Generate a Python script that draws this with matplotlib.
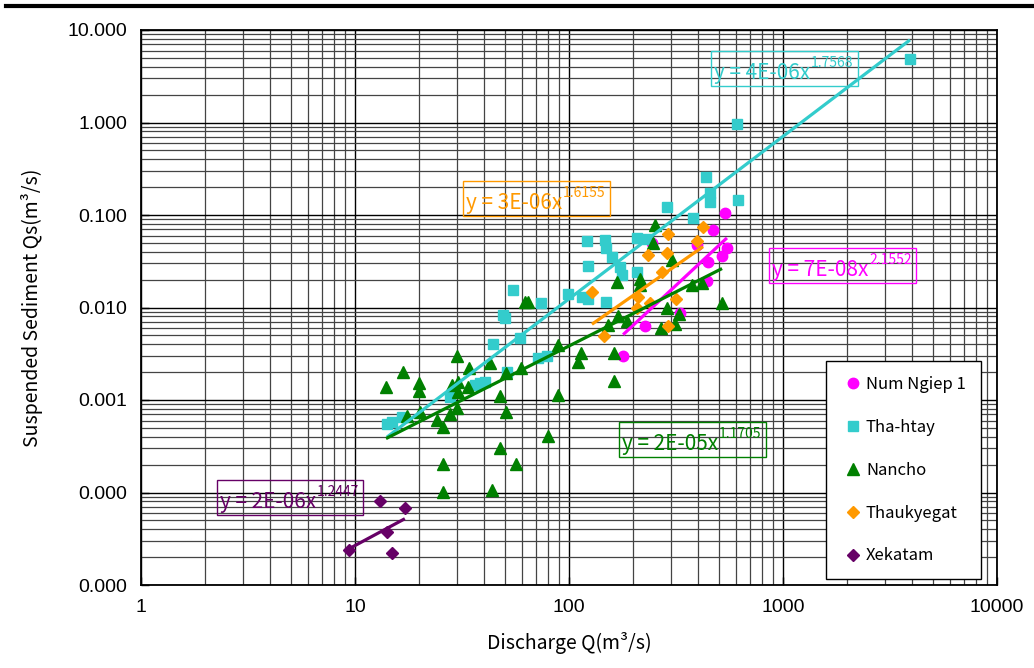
import numpy as np
import matplotlib
matplotlib.use("Agg")
import matplotlib.pyplot as plt
from matplotlib.ticker import FixedLocator, FuncFormatter, NullFormatter
from matplotlib.patches import Rectangle
from matplotlib.lines import Line2D

plt.rcParams['font.family'] = ['Noto Sans CJK JP', 'DejaVu Sans']

# データ
series_names = ["Num Ngiep 1", "Tha-htay", "Nancho", "Thaukyegat", "Xekatam"]

num_ngiep_q = [536, 471, 396, 244, 547, 519, 446, 441, 330, 227, 179]
num_ngiep_qs = [0.105, 0.0689, 0.0474, 0.0498, 0.044, 0.0361, 0.031, 0.0193,
                0.0087, 0.0063, 0.0030]

tha_htay_q = [14.1, 14.9, 16.6, 27.8, 36.4, 38.4, 40.5, 44.2, 51.3, 49.2, 50.2,
              54.7, 59.0, 71.6, 78.9, 74.0, 98.9, 115, 123, 149, 121, 123, 147,
              149, 159, 173, 177, 208, 208, 231, 287, 380, 437, 456, 456, 616,
              610, 3922]
tha_htay_qs = [5.5e-4, 5.8e-4, 6.5e-4, 1.08e-3, 1.45e-3, 1.53e-3, 1.57e-3,
               4.0e-3, 2.0e-3, 8.3e-3, 7.7e-3, 0.0155, 4.7e-3, 2.85e-3, 3.0e-3,
               0.0112, 0.0140, 0.0130, 0.0124, 0.0115, 0.0524, 0.0281, 0.0537,
               0.044, 0.0351, 0.0274, 0.0224, 0.0564, 0.0242, 0.055, 0.122,
               0.093, 0.257, 0.173, 0.138, 0.145, 0.963, 4.86]

nancho_q = [13.96, 16.8, 17.5, 19.9, 19.9, 20.1, 24.2, 25.8, 30.0, 28.4, 30.3,
            30.3, 27.8, 30.0, 34.1, 33.7, 25.8, 25.8, 42.7, 47.6, 50.8, 50.8,
            47.6, 56.5, 43.7, 59.7, 79.8, 62.3, 64.3, 88.8, 114, 110, 162, 162,
            88.8, 152, 169, 187, 168, 215, 215, 252, 303, 376, 418, 519, 287,
            327, 269, 313, 247]
nancho_qs = [1.38e-3, 2.0e-3, 6.7e-4, 1.53e-3, 1.25e-3, 7.4e-4, 6.1e-4, 5.1e-4,
             3.0e-3, 1.45e-3, 1.57e-3, 1.22e-3, 7.1e-4, 8.2e-4, 2.22e-3,
             1.38e-3, 2.03e-4, 1.01e-4, 2.51e-3, 1.10e-3, 1.96e-3, 7.4e-4,
             3.03e-4, 2.03e-4, 1.06e-4, 2.22e-3, 4.08e-4, 0.0115, 0.0115,
             3.93e-3, 3.22e-3, 2.58e-3, 3.22e-3, 1.6e-3, 1.13e-3, 6.47e-3,
             8.1e-3, 7.1e-3, 0.0189, 0.0203, 0.0175, 0.078, 0.0326, 0.0175,
             0.0184, 0.0112, 9.9e-3, 8.5e-3, 6.0e-3, 6.6e-3, 0.0498]

thaukyegat_q = [423, 396, 290, 234, 287, 272, 128, 210, 239, 208, 316, 290, 146]
thaukyegat_qs = [0.0741, 0.0524, 0.0623, 0.037, 0.0388, 0.0242, 0.0147, 0.0130,
                 0.0112, 0.0099, 0.0124, 0.0063, 0.0049]

xekatam_q = [13.1, 17.1, 14.1, 9.38, 14.9]
xekatam_qs = [8.1e-5, 6.8e-5, 3.74e-5, 2.39e-5, 2.22e-5]

# 近似曲線 y = a * x^b
fit_coef = [7.1e-8, 3.8e-6, 1.75e-5, 2.6e-6, 1.52e-6]
fit_exp = [2.1552, 1.7568, 1.1705, 1.6155, 1.2447]

# 軸の目盛り
x_ticks = [1, 10, 100, 1000, 10000]
y_ticks = [1e-5, 1e-4, 1e-3, 1e-2, 1e-1, 1, 10]

all_q = [num_ngiep_q, tha_htay_q, nancho_q, thaukyegat_q, xekatam_q]
all_qs = [num_ngiep_qs, tha_htay_qs, nancho_qs, thaukyegat_qs, xekatam_qs]

colors = ["#FF00FF", "#33CCCC", "#008000", "#FF9900", "#660066"]
markers = ["o", "s", "^", "D", "D"]
msizes = [7.5, 7.5, 8, 6.5, 6.0]

# 式ボックスの左上 (ピクセル)
eq_pos = [(769, 248), (711, 51), (619, 422), (463, 181), (217, 480)]

W, H = 1034, 668
fig = plt.figure(figsize=(W / 100, H / 100), dpi=100)
ax = fig.add_axes([141 / W, 1 - 585 / H, 856 / W, 555 / H])

for q, qs, c, m, ms, name in zip(all_q, all_qs, colors, markers, msizes, series_names):
    ax.plot(q, qs, linestyle="none", marker=m, ms=ms, color=c, mec=c, label=name, zorder=3)

for q, a, b, c in zip(all_q, fit_coef, fit_exp, colors):
    xs = np.geomspace(min(q), max(q), 60)
    ax.plot(xs, a * xs ** b, color=c, lw=2.3, zorder=4, solid_capstyle="butt")

ax.set_xscale("log")
ax.set_yscale("log")
ax.set_xlim(x_ticks[0], x_ticks[-1])
ax.set_ylim(y_ticks[0], y_ticks[-1])

# 副目盛り: 各桁の 2..9
x_minor = [d * k for d in x_ticks[:-1] for k in range(2, 10)]
y_minor = [d * k for d in y_ticks[:-1] for k in range(2, 10)]
ax.xaxis.set_major_locator(FixedLocator(x_ticks))
ax.yaxis.set_major_locator(FixedLocator(y_ticks))
ax.xaxis.set_minor_locator(FixedLocator(x_minor))
ax.yaxis.set_minor_locator(FixedLocator(y_minor))
ax.xaxis.set_minor_formatter(NullFormatter())
ax.yaxis.set_minor_formatter(NullFormatter())
ax.xaxis.set_major_formatter(FuncFormatter(lambda v, p: "%d" % round(v)))
ax.yaxis.set_major_formatter(FuncFormatter(lambda v, p: "%.3f" % v))

ax.grid(which="major", color="black", lw=1.0)
ax.grid(which="minor", color="#444444", lw=0.9)
ax.set_axisbelow(True)
ax.tick_params(which="major", direction="in", length=6, width=1, labelsize=14, pad=10)
ax.tick_params(which="minor", length=0)
for lab in ax.get_xticklabels() + ax.get_yticklabels():
    lab.set_family(["Liberation Sans", "DejaVu Sans"])
for sp in ax.spines.values():
    sp.set_linewidth(1.3)
    sp.set_color("black")

ax.set_xlabel("Discharge Q(m³/s)", fontsize=14)
ax.set_ylabel("Suspended Sediment Qs(m³/s)", fontsize=14)
ax.xaxis.set_label_coords(0.5, -(643 - 585) / 555)
ax.xaxis.label.set_va("center")
ax.yaxis.set_label_coords((32 - 141) / 856, 0.5)
ax.yaxis.label.set_va("center")

handles = [Line2D([], [], linestyle="none", marker=m, ms=ms, color=c, mec=c)
           for c, m, ms in zip(colors, markers, msizes)]
leg = ax.legend(handles, series_names, loc="upper left",
                bbox_to_anchor=(826 / W, 1 - 361 / H), bbox_transform=fig.transFigure,
                fontsize=12, frameon=True, fancybox=False, framealpha=1,
                edgecolor="black", borderaxespad=0, borderpad=0.9,
                labelspacing=1.55, handlelength=1.4, handletextpad=0.1)
leg.get_frame().set_linewidth(1.0)

# 近似式ラベル
fig.canvas.draw()
renderer = fig.canvas.get_renderer()
for (x0, y0), a, b, c in zip(eq_pos, fit_coef, fit_exp, colors):
    t = fig.text((x0 + 3) / W, 1 - (y0 + 28) / H, "y = %.0Ex" % a, color=c,
                 fontsize=15, va="baseline", ha="left")
    bb = t.get_window_extent(renderer)
    s = fig.text((bb.x1 + 1) / W, 1 - (y0 + 16) / H, "%.4f" % b, color=c,
                 fontsize=10, va="baseline", ha="left")
    sb = s.get_window_extent(renderer)
    fig.add_artist(Rectangle((x0 / W, 1 - (y0 + 35) / H), (sb.x1 + 4 - x0) / W, 35 / H,
                             transform=fig.transFigure, fill=False, ec=c, lw=1.0))

# 上端の太線
fig.add_artist(Line2D([6 / W, 1], [1 - 6 / H, 1 - 6 / H], transform=fig.transFigure,
                      color="black", lw=3))

fig.savefig("out.png", dpi=100)
